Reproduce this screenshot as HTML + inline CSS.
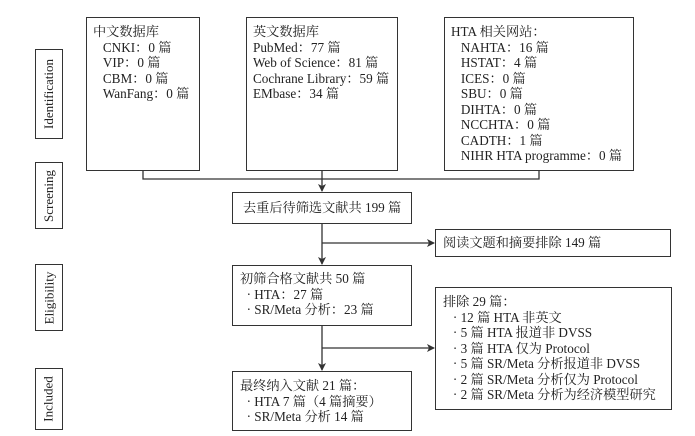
<!DOCTYPE html>
<html><head><meta charset="utf-8"><style>
body{margin:0;width:695px;height:436px;background:#fff;position:relative;overflow:hidden;font-family:"Liberation Serif","Noto Serif CJK SC",serif;font-size:13.2px;color:#222}
.b{position:absolute;border:1.3px solid #333;box-sizing:border-box;background:#fff}
.t{position:absolute;line-height:15.5px;white-space:nowrap}
.v{position:absolute;border:1.3px solid #333;box-sizing:border-box;display:flex;align-items:center;justify-content:center}
.v span{transform:rotate(-90deg);white-space:nowrap;font-size:13px}
svg{position:absolute;left:0;top:0}
</style></head><body>
<svg width="695" height="436">
<defs><marker id="a" markerWidth="8" markerHeight="8" refX="7" refY="4" orient="auto" markerUnits="userSpaceOnUse"><path d="M0,0 L8,4 L0,8 L2,4 Z" fill="#333"/></marker></defs>
<g stroke="#333" stroke-width="1.3" fill="none">
<polyline points="143,170 143,179 539,179 539,170"/>
<line x1="322" y1="170" x2="322" y2="191" marker-end="url(#a)"/>
<line x1="322" y1="223" x2="322" y2="264" marker-end="url(#a)"/>
<line x1="322" y1="243" x2="434" y2="243" marker-end="url(#a)"/>
<line x1="322" y1="325" x2="322" y2="370" marker-end="url(#a)"/>
<line x1="322" y1="348" x2="434" y2="348" marker-end="url(#a)"/>
</g></svg>
<div class="v" style="left:35px;top:49px;width:28px;height:90px"><span>Identification</span></div>
<div class="v" style="left:35px;top:162px;width:28px;height:67px"><span>Screening</span></div>
<div class="v" style="left:35px;top:264px;width:28px;height:67px"><span>Eligibility</span></div>
<div class="v" style="left:35px;top:368px;width:28px;height:62px"><span>Included</span></div>

<div class="b" style="left:86px;top:17px;width:114px;height:154px"></div>
<div class="t" style="left:93px;top:24px">中文数据库<br>&nbsp;&nbsp;&nbsp;CNKI：0 篇<br>&nbsp;&nbsp;&nbsp;VIP：0 篇<br>&nbsp;&nbsp;&nbsp;CBM：0 篇<br>&nbsp;&nbsp;&nbsp;WanFang：0 篇</div>
<div class="b" style="left:246px;top:17px;width:152px;height:154px"></div>
<div class="t" style="left:253px;top:24px">英文数据库<br>PubMed：77 篇<br>Web of Science：81 篇<br>Cochrane Library：59 篇<br>EMbase：34 篇</div>
<div class="b" style="left:444px;top:17px;width:190px;height:154px"></div>
<div class="t" style="left:451px;top:24px">HTA 相关网站：<br>&nbsp;&nbsp;&nbsp;NAHTA：16 篇<br>&nbsp;&nbsp;&nbsp;HSTAT：4 篇<br>&nbsp;&nbsp;&nbsp;ICES：0 篇<br>&nbsp;&nbsp;&nbsp;SBU：0 篇<br>&nbsp;&nbsp;&nbsp;DIHTA：0 篇<br>&nbsp;&nbsp;&nbsp;NCCHTA：0 篇<br>&nbsp;&nbsp;&nbsp;CADTH：1 篇<br>&nbsp;&nbsp;&nbsp;NIHR HTA programme：0 篇</div>

<div class="b" style="left:232px;top:192px;width:180px;height:32px"></div>
<div class="t" style="left:243px;top:200px">去重后待筛选文献共 199 篇</div>
<div class="b" style="left:435px;top:229px;width:236px;height:28px"></div>
<div class="t" style="left:443px;top:235px">阅读文题和摘要排除 149 篇</div>

<div class="b" style="left:232px;top:265px;width:180px;height:61px"></div>
<div class="t" style="left:240px;top:271px">初筛合格文献共 50 篇<br>&nbsp;&nbsp;· HTA：27 篇<br>&nbsp;&nbsp;· SR/Meta 分析：23 篇</div>

<div class="b" style="left:435px;top:287px;width:237px;height:123px"></div>
<div class="t" style="left:443px;top:294px">排除 29 篇：<br>&nbsp;&nbsp;&nbsp;· 12 篇 HTA 非英文<br>&nbsp;&nbsp;&nbsp;· 5 篇 HTA 报道非 DVSS<br>&nbsp;&nbsp;&nbsp;· 3 篇 HTA 仅为 Protocol<br>&nbsp;&nbsp;&nbsp;· 5 篇 SR/Meta 分析报道非 DVSS<br>&nbsp;&nbsp;&nbsp;· 2 篇 SR/Meta 分析仅为 Protocol<br>&nbsp;&nbsp;&nbsp;· 2 篇 SR/Meta 分析为经济模型研究</div>

<div class="b" style="left:232px;top:371px;width:180px;height:60px"></div>
<div class="t" style="left:240px;top:378px">最终纳入文献 21 篇：<br>&nbsp;&nbsp;· HTA 7 篇（4 篇摘要）<br>&nbsp;&nbsp;· SR/Meta 分析 14 篇</div>
</body></html>
